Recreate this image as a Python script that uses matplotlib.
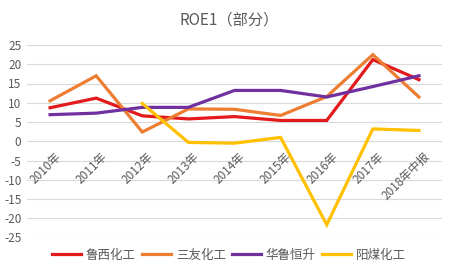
import matplotlib
matplotlib.use("Agg")
import matplotlib.pyplot as plt

plt.rcParams['font.family'] = ['Noto Sans CJK SC', 'DejaVu Sans']

categories = ["2010年", "2011年", "2012年", "2013年", "2014年", "2015年", "2016年", "2017年", "2018年中报"]
luxi = [8.7, 11.2, 6.6, 5.8, 6.4, 5.4, 5.4, 21.2, 16.0]
sanyou = [10.5, 17.0, 2.4, 8.4, 8.3, 6.7, 11.6, 22.5, 11.5]
hualu = [6.9, 7.3, 8.8, 8.8, 13.2, 13.2, 11.5, 14.2, 17.0]
yangmei = [None, None, 9.8, -0.3, -0.5, 1.0, -21.7, 3.2, 2.8]
series_names = ["鲁西化工", "三友化工", "华鲁恒升", "阳煤化工"]
colors = ["#E3191B", "#ED7D31", "#7030A0", "#FFC000"]
yticks = [25, 20, 15, 10, 5, 0, -5, -10, -15, -20, -25]

fig = plt.figure(figsize=(4.58, 2.72), dpi=100)
ax = fig.add_axes([27/458, 1-237.5/272, (442-27)/458, (237.5-45)/272])

x = list(range(len(categories)))
for data, name, c in zip([luxi, sanyou, hualu, yangmei], series_names, colors):
    xs = [xi for xi, v in zip(x, data) if v is not None]
    ys = [v for v in data if v is not None]
    ax.plot(xs, ys, color=c, lw=2.3, label=name, solid_joinstyle='miter', zorder=3)

ax.set_xlim(-0.5, len(categories) - 0.5)
ax.set_ylim(-25, 25)
ax.set_yticks(yticks)
ax.set_yticklabels([str(t) for t in yticks], fontsize=8.5, color="#595959")
ax.tick_params(axis='y', length=0, pad=4)
ax.set_xticks([])
ax.grid(axis='y', color="#D9D9D9", lw=0.8)
for s in ax.spines.values():
    s.set_visible(False)
ax.axhline(0, color="#D9D9D9", lw=0.8, zorder=1)

for xi, lab in zip(x, categories):
    ax.text(xi + 0.1, -2.3, lab, rotation=45, rotation_mode='anchor',
            ha='right', va='top', fontsize=8.5, color="#595959")

fig.text(0.5, 1 - 20/272, "ROE1（部分）", ha='center', va='center', fontsize=11, color="#595959")

leg = fig.legend(loc='center', bbox_to_anchor=(0.5, 1 - 255/272), ncol=4, frameon=False,
                 fontsize=9, handlelength=2.3, columnspacing=0.5, handletextpad=0.4)
for t in leg.get_texts():
    t.set_color("#595959")

fig.savefig("out.png", dpi=100)
